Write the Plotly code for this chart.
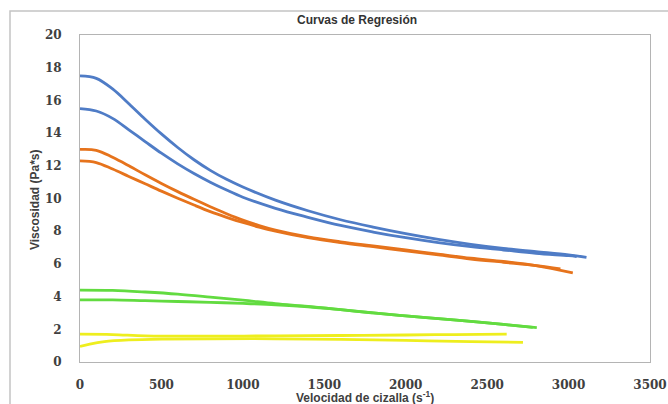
import plotly.graph_objects as go

# ---- data ----
b1_x = [0, 100, 200, 300, 400, 500, 600, 700, 800, 900, 1000, 1200, 1400, 1600, 1800, 2000, 2200, 2400, 2600, 2800, 3000, 3110]
b1_y = [17.5, 17.35, 16.7, 15.8, 14.85, 13.95, 13.12, 12.37, 11.72, 11.17, 10.7, 9.9, 9.25, 8.7, 8.25, 7.85, 7.5, 7.2, 6.95, 6.75, 6.55, 6.4]

b2_x = [0, 100, 200, 300, 400, 500, 600, 700, 800, 900, 1000, 1200, 1400, 1600, 1800, 2000, 2200, 2400, 2600, 2800, 3000, 3050]
b2_y = [15.5, 15.35, 14.9, 14.2, 13.48, 12.77, 12.12, 11.53, 11.0, 10.52, 10.08, 9.4, 8.85, 8.35, 7.95, 7.6, 7.3, 7.05, 6.85, 6.65, 6.5, 6.45]

o1_x = [0, 100, 200, 300, 400, 500, 600, 700, 800, 900, 1000, 1100, 1200, 1400, 1600, 1800, 2000, 2200, 2400, 2600, 2800, 3026]
o1_y = [13.0, 12.95, 12.52, 12.0, 11.45, 10.92, 10.42, 9.95, 9.5, 9.07, 8.68, 8.35, 8.07, 7.65, 7.35, 7.1, 6.85, 6.6, 6.35, 6.15, 5.9, 5.45]

o2_x = [0, 100, 200, 300, 400, 500, 600, 700, 800, 900, 1000, 1100, 1200, 1400, 1600, 1800, 2000, 2200, 2400, 2600, 2800, 2950]
o2_y = [12.3, 12.2, 11.8, 11.35, 10.9, 10.45, 10.02, 9.6, 9.2, 8.85, 8.53, 8.25, 8.0, 7.6, 7.3, 7.05, 6.8, 6.55, 6.3, 6.1, 5.9, 5.7]

g1_x = [0, 200, 400, 600, 800, 1000, 1200, 1400, 1600, 1800, 2000, 2200, 2400, 2600, 2805]
g1_y = [4.4, 4.38, 4.28, 4.15, 3.97, 3.78, 3.57, 3.4, 3.2, 3.0, 2.82, 2.65, 2.48, 2.3, 2.1]

g2_x = [0, 200, 400, 600, 800, 1000, 1200, 1400, 1600, 1800, 2000, 2200, 2400, 2600, 2780]
g2_y = [3.8, 3.8, 3.75, 3.7, 3.65, 3.58, 3.5, 3.38, 3.2, 3.0, 2.82, 2.65, 2.48, 2.3, 2.12]

y1_x = [0, 200, 400, 800, 1200, 1600, 2000, 2300, 2620]
y1_y = [1.7, 1.68, 1.6, 1.58, 1.6, 1.62, 1.65, 1.68, 1.7]

y2_x = [0, 60, 150, 300, 500, 800, 1200, 1600, 2000, 2400, 2720]
y2_y = [0.95, 1.1, 1.25, 1.35, 1.4, 1.42, 1.42, 1.38, 1.32, 1.25, 1.2]

x_ticks = [0, 500, 1000, 1500, 2000, 2500, 3000, 3500]
y_ticks = [0, 2, 4, 6, 8, 10, 12, 14, 16, 18, 20]

title_text = "Curvas de Regresión"
x_title = "Velocidad de cizalla (s<sup>-1</sup>)"
y_title = "Viscosidad (Pa*s)"

BLUE = "#4f7cc6"
ORANGE = "#e6731c"
GREEN = "#62db40"
YELLOW = "#eeee1e"

series = [
    (b1_x, b1_y, BLUE),
    (b2_x, b2_y, BLUE),
    (o1_x, o1_y, ORANGE),
    (o2_x, o2_y, ORANGE),
    (g1_x, g1_y, GREEN),
    (g2_x, g2_y, GREEN),
    (y1_x, y1_y, YELLOW),
    (y2_x, y2_y, YELLOW),
]

fig = go.Figure()
for xs, ys, col in series:
    fig.add_trace(go.Scatter(x=xs, y=ys, mode="lines",
                             line=dict(color=col, width=2.8, shape="spline", smoothing=1.0),
                             showlegend=False, hoverinfo="skip"))

W, H = 668, 404
L, R, T, B = 80, 18, 35, 42
pw, ph = W - L - R, H - T - B

def px_x(p):
    return (p - L) / pw

def px_y(p):
    return (H - B - p) / ph

tickfont = dict(family="DejaVu Serif", size=12, color="#404040", weight="bold")

fig.update_layout(
    width=W, height=H,
    margin=dict(l=L, r=R, t=T, b=B, autoexpand=False),
    paper_bgcolor="white", plot_bgcolor="white",
    xaxis=dict(range=[0, 3500], tickvals=x_ticks, showgrid=False, zeroline=False,
               showline=True, linecolor="#b4b4b4", linewidth=1, mirror=True,
               ticks="", tickfont=tickfont, ticklabelstandoff=12),
    yaxis=dict(range=[0, 20], tickvals=y_ticks, showgrid=False, zeroline=False,
               showline=True, linecolor="#b4b4b4", linewidth=1, mirror=True,
               ticks="", tickfont=tickfont, ticklabelstandoff=15),
    shapes=[dict(type="rect", xref="paper", yref="paper",
                 x0=px_x(10), x1=px_x(690), y0=px_y(420), y1=px_y(11),
                 line=dict(color="#c4c4c4", width=1.5), fillcolor="rgba(0,0,0,0)")],
    annotations=[
        dict(text=title_text, xref="paper", yref="paper", x=px_x(357), y=px_y(20),
             xanchor="center", yanchor="middle", showarrow=False,
             font=dict(family="Liberation Sans", size=12, color="#333333", weight="bold")),
        dict(text=x_title, xref="paper", yref="paper", x=px_x(365), y=px_y(396.5),
             xanchor="center", yanchor="middle", showarrow=False,
             font=dict(family="Liberation Sans", size=12, color="#404040", weight="bold")),
        dict(text=y_title, xref="paper", yref="paper", x=px_x(35), y=px_y(200),
             xanchor="center", yanchor="middle", showarrow=False, textangle=-90,
             font=dict(family="Liberation Sans", size=12, color="#404040", weight="bold")),
    ],
)

fig.write_html("out.html", config={"displayModeBar": False},
               post_script="document.body.style.margin='0';document.body.style.overflow='hidden';")
